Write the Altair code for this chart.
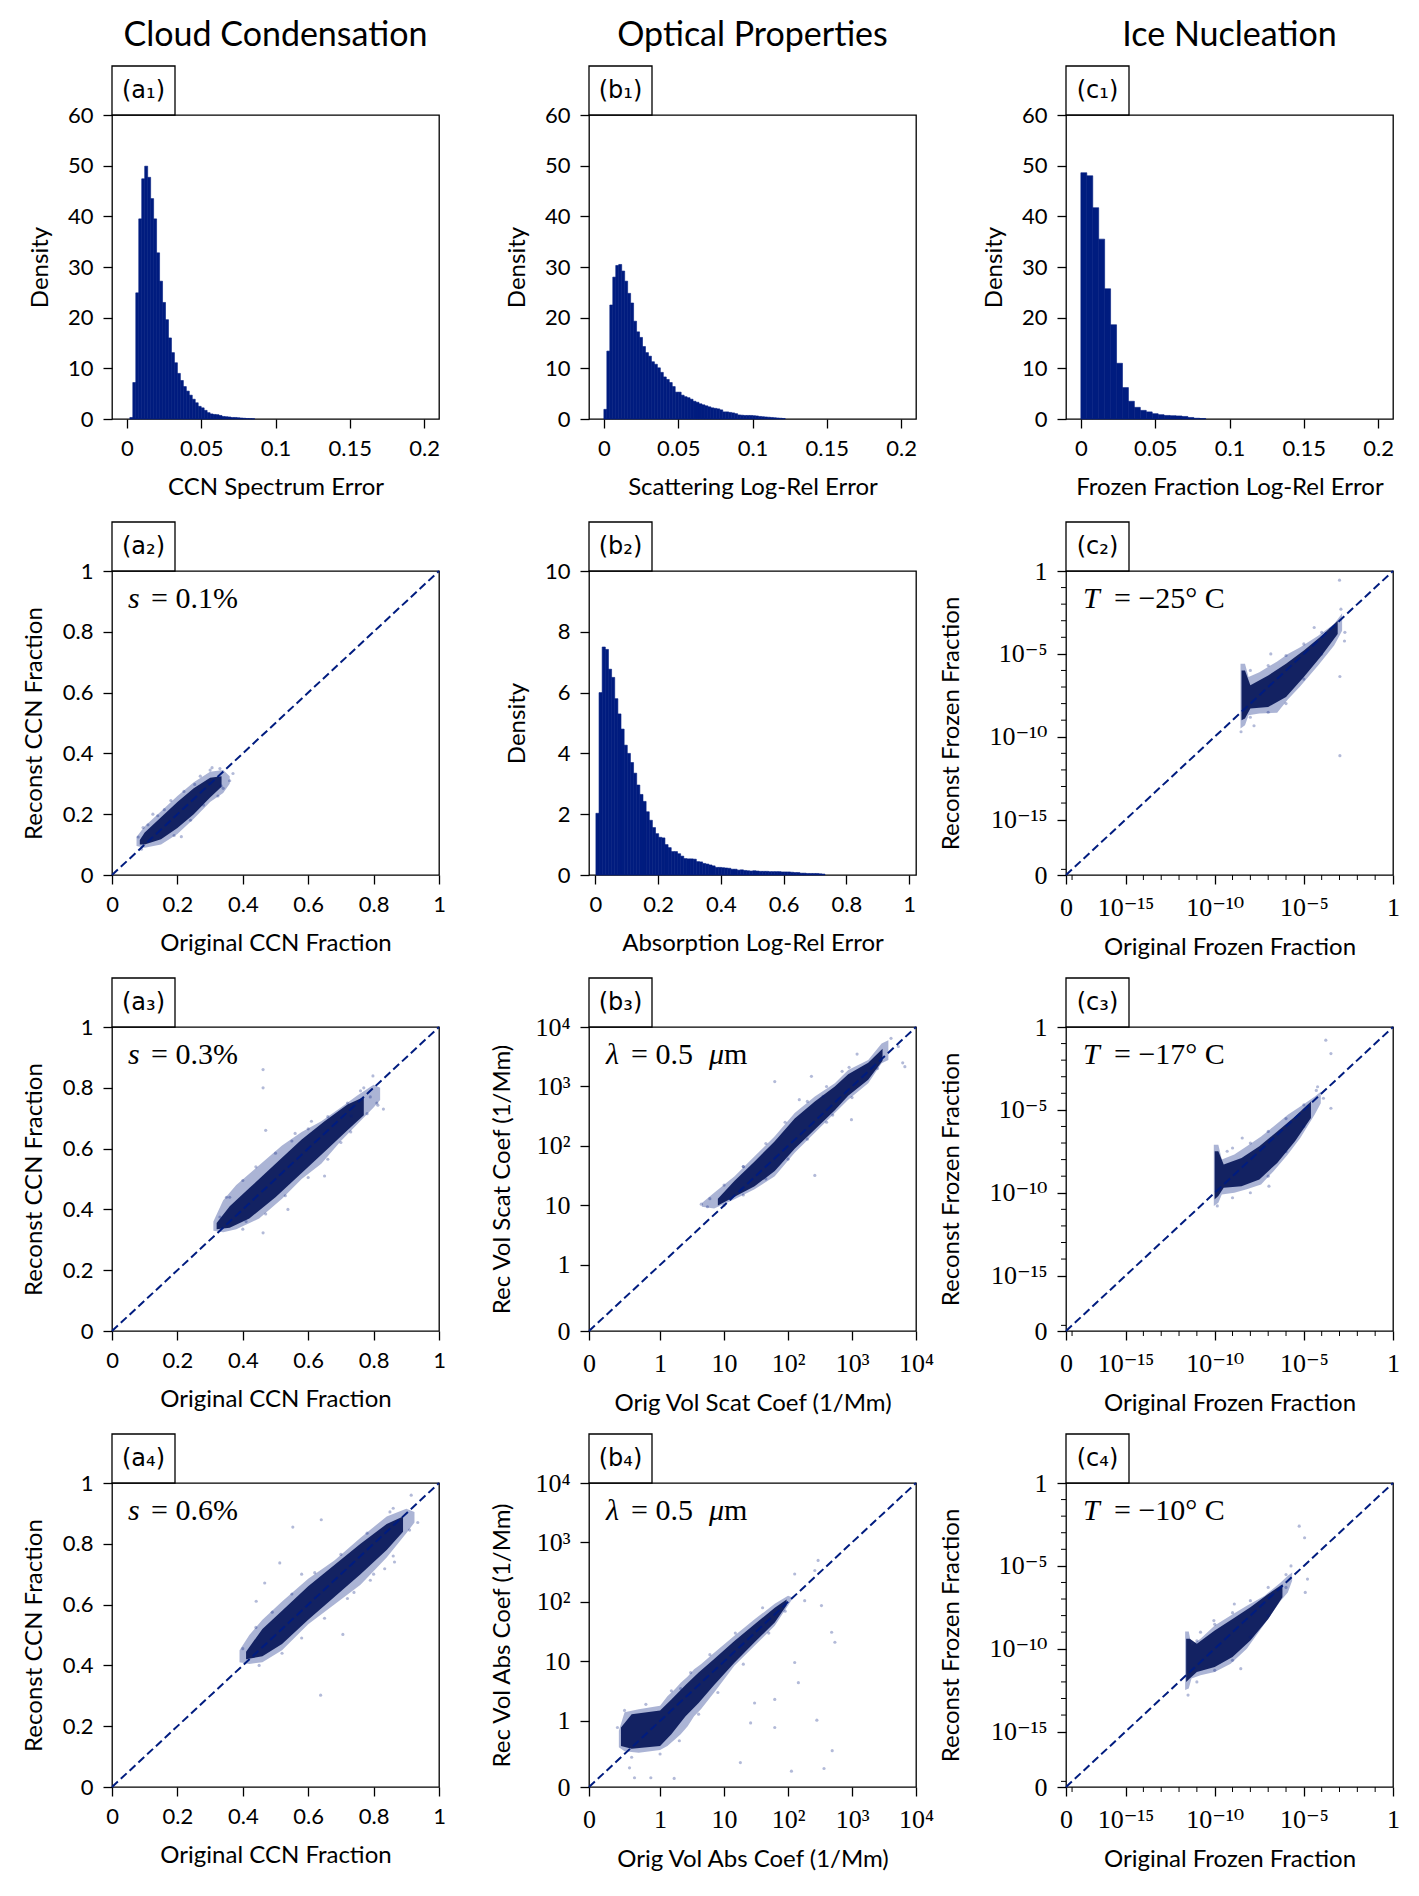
import math
import altair as alt
import pandas as pd

# ---------------------------------------------------------------- style
W, H = 327, 304
NAVY = "#001c7f"
CORE = "#0b1a5c"
SANS = "Lato"
SERIF = "Liberation Serif, DejaVu Serif, serif"
LABFONT = "DejaVu Sans"

# ---------------------------------------------------------------- histogram data (density per bin)
a1_start, a1_width = 0.002, 0.002
a1_density = [0.3, 7.2, 24.9, 39.5, 47.4, 49.9, 47.7, 43.5, 39.5, 32.8, 27.2, 23.0, 19.6, 16.0,
              13.1, 11.1, 9.0, 7.6, 6.4, 5.5, 4.7, 3.9, 3.2, 2.5, 2.2, 1.7, 1.25, 1.0, 0.9, 0.85,
              0.7, 0.5, 0.45, 0.4, 0.3, 0.3, 0.25, 0.2, 0.15, 0.1, 0.08, 0.05]

b1_start, b1_width = 0.0, 0.002
b1_density = [1.9, 13.4, 22.5, 28.0, 30.3, 30.5, 29.2, 27.2, 24.8, 22.9, 19.3, 17.2, 16.1, 14.3,
              13.1, 12.4, 11.3, 10.8, 10.1, 9.2, 8.3, 7.8, 7.2, 6.4, 5.3, 5.3, 4.7, 4.4, 4.2, 3.9,
              3.5, 3.3, 3.0, 2.8, 2.6, 2.4, 2.2, 2.1, 2.0, 1.8, 1.4, 1.4, 1.3, 1.2, 1.05, 0.8,
              0.75, 0.7, 0.7, 0.7, 0.65, 0.6, 0.5, 0.45, 0.4, 0.35, 0.3, 0.25, 0.2, 0.15, 0.1]

c1_start, c1_width = 0.0, 0.004
c1_density = [48.6, 48.0, 41.7, 35.5, 25.7, 18.6, 11.0, 6.2, 3.5, 2.3, 1.7, 1.4, 1.05, 0.85,
              0.7, 0.65, 0.6, 0.5, 0.3, 0.15, 0.1]

b2_start, b2_width = 0.002, 0.01
b2_density = [2.03, 6.0, 7.5, 7.42, 6.77, 6.5, 5.8, 5.3, 4.8, 4.27, 4.0, 3.7, 3.35, 2.96, 2.65,
              2.42, 2.08, 1.8, 1.56, 1.36, 1.24, 1.22, 1.0, 0.9, 0.77, 0.77, 0.7, 0.62, 0.54,
              0.53, 0.53, 0.52, 0.44, 0.43, 0.38, 0.36, 0.33, 0.3, 0.25, 0.25, 0.24, 0.23, 0.22,
              0.19, 0.19, 0.16, 0.17, 0.15, 0.14, 0.13, 0.14, 0.13, 0.12, 0.12, 0.12, 0.11, 0.11,
              0.11, 0.11, 0.10, 0.10, 0.10, 0.09, 0.08, 0.08, 0.06, 0.06, 0.05, 0.05, 0.05, 0.05,
              0.04, 0.03]

# ---------------------------------------------------------------- scatter clouds
# (x, lower edge, upper edge) of the sparse envelope and of the dense core, plus stray points
a2_outer_x = [0.075, 0.10, 0.15, 0.20, 0.25, 0.30, 0.34, 0.36]
a2_outer_lo = [0.095, 0.09, 0.10, 0.135, 0.185, 0.24, 0.27, 0.30]
a2_outer_hi = [0.125, 0.16, 0.21, 0.26, 0.305, 0.34, 0.345, 0.325]
a2_core_x = [0.085, 0.10, 0.15, 0.20, 0.25, 0.30, 0.335]
a2_core_lo = [0.10, 0.10, 0.118, 0.155, 0.20, 0.255, 0.29]
a2_core_hi = [0.115, 0.14, 0.19, 0.24, 0.285, 0.32, 0.325]
a2_pts_x = [0.37, 0.306, 0.334, 0.212, 0.125, 0.253, 0.294, 0.095, 0.324, 0.16, 0.36,
            0.09, 0.11, 0.14, 0.18, 0.22, 0.27, 0.30, 0.33, 0.19, 0.24, 0.28, 0.34, 0.08]
a2_pts_y = [0.334, 0.353, 0.293, 0.126, 0.20, 0.298, 0.306, 0.156, 0.26, 0.215, 0.31,
            0.085, 0.165, 0.195, 0.245, 0.275, 0.325, 0.345, 0.35, 0.13, 0.18, 0.23, 0.285, 0.125]

a3_outer_x = [0.31, 0.34, 0.38, 0.45, 0.52, 0.58, 0.64, 0.70, 0.75, 0.80, 0.82]
a3_outer_lo = [0.33, 0.325, 0.335, 0.37, 0.435, 0.50, 0.55, 0.625, 0.68, 0.735, 0.76]
a3_outer_hi = [0.36, 0.43, 0.48, 0.545, 0.61, 0.655, 0.69, 0.735, 0.775, 0.81, 0.80]
a3_core_x = [0.32, 0.36, 0.42, 0.50, 0.58, 0.65, 0.72, 0.77]
a3_core_lo = [0.335, 0.34, 0.37, 0.44, 0.52, 0.59, 0.66, 0.71]
a3_core_hi = [0.355, 0.41, 0.47, 0.55, 0.63, 0.69, 0.745, 0.77]
a3_pts_x = [0.462, 0.462, 0.813, 0.798, 0.732, 0.538, 0.462, 0.83, 0.76, 0.65, 0.47, 0.56,
            0.41, 0.70, 0.79, 0.35, 0.61,
            0.33, 0.36, 0.40, 0.44, 0.50, 0.55, 0.60, 0.66, 0.72, 0.77, 0.40, 0.47, 0.53,
            0.60, 0.66, 0.73, 0.78, 0.81]
a3_pts_y = [0.86, 0.80, 0.743, 0.839, 0.707, 0.40, 0.323, 0.73, 0.79, 0.51, 0.66, 0.65,
            0.36, 0.62, 0.77, 0.44, 0.69,
            0.375, 0.44, 0.495, 0.54, 0.585, 0.625, 0.665, 0.705, 0.75, 0.80, 0.335, 0.385, 0.445,
            0.505, 0.565, 0.655, 0.715, 0.75]

a4_outer_x = [0.39, 0.42, 0.46, 0.52, 0.60, 0.68, 0.76, 0.84, 0.90, 0.925]
a4_outer_lo = [0.41, 0.405, 0.41, 0.45, 0.535, 0.60, 0.665, 0.755, 0.835, 0.87]
a4_outer_hi = [0.45, 0.50, 0.55, 0.61, 0.685, 0.745, 0.82, 0.89, 0.915, 0.905]
a4_core_x = [0.41, 0.46, 0.52, 0.60, 0.68, 0.76, 0.84, 0.89]
a4_core_lo = [0.42, 0.43, 0.47, 0.55, 0.625, 0.70, 0.78, 0.84]
a4_core_hi = [0.445, 0.52, 0.58, 0.66, 0.73, 0.80, 0.865, 0.89]
a4_pts_x = [0.915, 0.86, 0.553, 0.64, 0.638, 0.706, 0.441, 0.467, 0.513, 0.864, 0.834, 0.935,
            0.58, 0.74, 0.80,
            0.40, 0.44, 0.49, 0.55, 0.62, 0.70, 0.78, 0.85, 0.45, 0.52, 0.58, 0.65, 0.72,
            0.79, 0.86, 0.91]
a4_pts_y = [0.96, 0.917, 0.855, 0.879, 0.302, 0.502, 0.611, 0.671, 0.737, 0.74, 0.718, 0.87,
            0.70, 0.64, 0.70,
            0.455, 0.525, 0.575, 0.635, 0.705, 0.765, 0.835, 0.905, 0.40, 0.44, 0.49, 0.555,
            0.62, 0.68, 0.76, 0.845]

b3_outer_x = [4.5, 7.0, 14.6, 30, 62, 127, 262, 538, 871, 1790, 2900, 3700]
b3_outer_lo = [9.5, 8.9, 12.7, 18.7, 31, 77, 166, 358, 600, 1137, 2460, 2800]
b3_outer_hi = [11, 16.4, 31, 67, 146, 358, 681, 1137, 1900, 2800, 5300, 6000]
b3_core_x = [8, 14.6, 30, 62, 127, 262, 538, 871, 1790, 3000]
b3_core_lo = [10, 14, 21, 38, 90, 190, 400, 700, 1300, 2700]
b3_core_hi = [13, 26, 55, 120, 290, 560, 1000, 1600, 2500, 4300]
b3_pts_x = [62, 232, 353, 980, 262, 5300, 6700, 4070, 4.4, 5.5, 150, 400, 1200, 20, 700, 6200,
            6, 10, 20, 45, 90, 200, 400, 900, 10, 20, 45, 100, 200, 500, 1000, 2500]
b3_pts_y = [1210, 1480, 680, 277, 32, 4700, 2150, 6450, 10.5, 9.5, 600, 250, 3500, 45, 1800, 2500,
            13, 22, 45, 110, 250, 560, 1000, 2100, 10, 15, 28, 60, 130, 330, 650, 2000]

b4_outer_x = [0.42, 0.5, 0.7, 1.0, 1.3, 1.7, 2.1, 2.7, 3.4, 4.35, 7, 14.5, 30, 62, 100, 115]
b4_outer_lo = [0.6, 0.54, 0.52, 0.56, 0.62, 0.72, 0.8, 0.92, 1.2, 1.57, 3.0, 8.5, 18.3, 40, 87, 110]
b4_outer_hi = [0.85, 1.4, 1.57, 1.8, 2.6, 3.4, 4.4, 5.6, 7.4, 9.0, 14, 27, 51, 93, 127, 120]
b4_core_x = [0.45, 0.6, 1.0, 1.5, 2.5, 4, 7, 14.5, 30, 62, 95]
b4_core_lo = [0.62, 0.58, 0.62, 0.8, 1.2, 2.0, 4.0, 9.5, 21, 45, 88]
b4_core_hi = [0.9, 1.3, 1.5, 2.3, 4.0, 6.5, 11, 22, 42, 80, 110]
b4_pts_x = [333, 480, 540, 127, 145, 62, 26, 18, 113, 365, 490, 262, 295, 127, 182, 0.64, 0.87,
            1.66, 0.57, 282, 62, 30, 2.1,
            0.4, 0.5, 0.8, 1.5, 3, 6, 15, 40, 0.6, 1, 2, 4, 8, 20, 50, 90]
b4_pts_y = [87, 31, 21, 9.6, 4.4, 2.3, 0.97, 0.37, 0.24, 0.28, 0.55, 338, 500, 295, 105, 0.14,
            0.14, 0.13, 0.29, 1.03, 0.9, 2.0, 3.5,
            0.9, 1.5, 1.9, 3.2, 6.5, 13, 30, 80, 0.45, 0.5, 0.7, 1.3, 3, 9, 30, 70]

c2_outer_x = [2.8e-9, 5e-9, 7.9e-9, 3.2e-8, 3.2e-7, 1.26e-6, 6.3e-6, 6.3e-5, 5e-4, 1.4e-3]
c2_outer_lo = [3.2e-10, 5e-10, 2e-9, 2.5e-9, 2.8e-9, 1.8e-8, 1.1e-7, 2e-6, 3.2e-5, 2.5e-4]
c2_outer_hi = [2.5e-6, 2.5e-6, 4e-7, 7.9e-7, 3.5e-6, 1e-5, 2.5e-5, 1.26e-4, 6.3e-4, 2.8e-3]
c2_core_x = [3.2e-9, 5e-9, 1e-8, 1e-7, 1e-6, 1e-5, 1e-4, 7.9e-4]
c2_core_lo = [1e-9, 1.26e-9, 5e-9, 6.3e-9, 2.5e-8, 4e-7, 7.9e-6, 1.6e-4]
c2_core_hi = [1e-6, 1e-6, 1.26e-7, 5e-7, 2.5e-6, 1.6e-5, 1.26e-4, 1e-3]
c2_pts_x = [1.0e-3, 1.05e-3, 1.05e-3, 1.9e-3, 1.4e-7, 1.6e-8, 1.2e-3, 3.8e-5, 2.0e-3,
            1e-8, 1e-7, 1e-6, 1e-5, 1e-4, 1e-8, 1e-7, 1e-6, 1e-5, 1e-4, 3e-9]
c2_pts_y = [2.8e-1, 4.3e-7, 7.2e-12, 6.0e-5, 1.0e-5, 4.6e-10, 5.0e-3, 3.9e-4, 2.0e-4,
            1e-6, 2e-6, 8e-6, 4e-5, 2e-4, 1.5e-9, 3e-9, 1e-8, 3e-7, 1e-5, 2e-10]

c3_outer_x = [8.9e-11, 1.6e-10, 2.5e-10, 1.26e-9, 6.3e-9, 4e-8, 2e-7, 1.26e-6, 6.3e-6, 4e-5, 8.9e-5]
c3_outer_lo = [1.6e-11, 2.5e-11, 7.9e-11, 1e-10, 1.6e-10, 3.2e-10, 2e-9, 2e-8, 2e-7, 5e-6, 2.5e-5]
c3_outer_hi = [7.9e-8, 7.9e-8, 1e-8, 2e-8, 6.3e-8, 2.5e-7, 1e-6, 5e-6, 1.6e-5, 6.3e-5, 1.26e-4]
c3_core_x = [1e-10, 1.6e-10, 3.2e-10, 3.2e-9, 3.2e-8, 3.2e-7, 3.2e-6, 2.5e-5]
c3_core_lo = [4e-11, 6.3e-11, 2e-10, 2.5e-10, 6.3e-10, 6.3e-9, 1.26e-7, 3.2e-6]
c3_core_hi = [3.2e-8, 3.2e-8, 5e-9, 1.26e-8, 6.3e-8, 5e-7, 4e-6, 3.2e-5]
c3_pts_x = [1.7e-4, 3.3e-4, 3.3e-4, 5.9e-5, 1.1e-7, 3.5e-9, 5e-10, 1.4e-10, 1.26e-4,
            1e-9, 1e-8, 1e-7, 1e-6, 1e-5, 1e-9, 1e-8, 1e-7, 1e-6, 1e-5, 5e-5]
c3_pts_y = [1.6e-1, 2.5e-2, 1.26e-5, 2.5e-4, 2.5e-10, 2e-7, 3.2e-8, 1.6e-11, 5e-5,
            5e-8, 1e-7, 5e-7, 3e-6, 2e-5, 5e-11, 1e-10, 1e-9, 3e-8, 1e-6, 1.5e-4]

c4_outer_x = [2.2e-12, 3.5e-12, 5e-12, 1.6e-11, 1e-10, 7.9e-10, 6.3e-9, 6.3e-8, 5e-7, 1.26e-6, 2.2e-6]
c4_outer_lo = [3.2e-13, 4e-13, 1.6e-12, 2.5e-12, 4e-12, 1.26e-11, 1e-10, 3.2e-9, 7.9e-8, 2.5e-7, 1.26e-6]
c4_outer_hi = [1.1e-9, 1.1e-9, 1.6e-10, 4e-10, 2.5e-9, 1e-8, 4e-8, 1.6e-7, 1e-6, 2.5e-6, 4e-6]
c4_core_x = [2.5e-12, 4e-12, 1e-11, 1e-10, 1e-9, 1e-8, 1e-7, 6.3e-7]
c4_core_lo = [1e-12, 1.6e-12, 4e-12, 7.9e-12, 3.2e-11, 3.2e-10, 6.3e-9, 1.26e-7]
c4_core_hi = [4e-10, 4e-10, 2e-10, 1.26e-9, 6.3e-9, 3.2e-8, 2e-7, 7.9e-7]
c4_pts_x = [5.5e-6, 1.1e-5, 1.6e-5, 1.2e-5, 1.9e-6, 2.9e-9, 9e-11, 1.6e-11, 1.26e-9, 3.2e-12,
            1e-11, 1e-10, 1e-9, 1e-8, 1e-7, 1e-6, 1e-11, 1e-10, 1e-9, 1e-8, 1e-7, 1e-6]
c4_pts_y = [2.5e-3, 5e-4, 1.6e-6, 2.5e-7, 1e-5, 6.3e-12, 5e-9, 1e-9, 5e-8, 1.6e-13,
            3e-10, 3e-9, 1.5e-8, 8e-8, 5e-7, 3e-6, 1e-12, 5e-12, 2e-11, 5e-10, 1e-8, 5e-7]

# ---------------------------------------------------------------- ticks
lin_ticks = [0, 0.2, 0.4, 0.6, 0.8, 1]
lin_labels = ["0", "0.2", "0.4", "0.6", "0.8", "1"]
small_ticks = [0, 0.05, 0.1, 0.15, 0.2]
small_labels = ["0", "0.05", "0.1", "0.15", "0.2"]
dens60_ticks = [0, 10, 20, 30, 40, 50, 60]
dens10_ticks = [0, 2, 4, 6, 8, 10]
opt_ticks = [0, 1, 10, 100, 1000, 10000]
opt_labels = ["0", "1", "10", "10²", "10³", "10⁴"]
ice_ticks = [0, 1e-15, 1e-10, 1e-5, 1]
ice_labels = ["0", "10⁻¹⁵", "10⁻¹⁰", "10⁻⁵", "1"]
ice_minor = [1e-18, 1e-14, 1e-13, 1e-12, 1e-11, 1e-9, 1e-8, 1e-7, 1e-6, 1e-4, 1e-3, 1e-2, 1e-1]

# symmetric-log parameters (linear threshold, linear-region length in decades)
SYMLOG = {"b": (1.0, 1 / 0.9), "c": (1e-18, 0.34)}


def fwd(v, kind):
    if kind == "lin":
        return v
    L, A = SYMLOG[kind]
    return v / L * A if v <= L else A + math.log10(v / L)


def sl_expr(field, kind):
    if kind == "lin":
        return f"datum.{field}"
    L, A = SYMLOG[kind]
    return (f"datum.{field} <= {L!r} ? datum.{field} / {L!r} * {A!r} : "
            f"{A!r} + log(datum.{field} / {L!r}) / LN10")


def label_expr(vals, labels):
    expr = f"'{labels[-1]}'"
    for i in range(len(vals) - 2, -1, -1):
        mid = (vals[i] + vals[i + 1]) / 2
        expr = f"datum.value < {mid!r} ? '{labels[i]}' : ({expr})"
    return expr


def axis_common(font, size):
    return dict(tickSize=9, tickWidth=1.3, tickColor="black", domain=False, grid=False,
                labelFont=font, labelFontSize=size, labelColor="black", labelPadding=10,
                labelFlush=False, labelOverlap=False,
                titleFont=SANS, titleFontSize=24, titleFontWeight="normal", titleColor="black")


def xaxis(title, vals, labels, font=SANS, size=22, title_y=75):
    return alt.Axis(title=title, values=vals, labelExpr=label_expr(vals, labels),
                    titleX=W / 2, titleY=title_y, titleAlign="center",
                    titleBaseline="alphabetic", **axis_common(font, size))


def yaxis(title, vals, labels, font=SANS, size=22, title_x=-70):
    return alt.Axis(title=title, values=vals, labelExpr=label_expr(vals, labels),
                    titleX=title_x, titleY=H / 2, titleAngle=270, titleAlign="center",
                    titleBaseline="alphabetic", **axis_common(font, size))


ONE = pd.DataFrame({"k": [0]})


def deco_layers(label, coltitle=None):
    box = alt.Chart(ONE).mark_rect(fill="white", stroke="black", strokeWidth=1.3).encode(
        x=alt.value(0), x2=alt.value(63), y=alt.value(-49), y2=alt.value(0))
    txt = alt.Chart(ONE).mark_text(font=LABFONT, fontSize=24, align="center",
                                   baseline="middle", color="black").encode(
        x=alt.value(31.5), y=alt.value(-24), text=alt.value(label))
    out = [box, txt]
    if coltitle:
        out.append(alt.Chart(ONE).mark_text(font=SANS, fontSize=34, align="center",
                                            baseline="alphabetic", color="black").encode(
            x=alt.value(W / 2), y=alt.value(-69), text=alt.value(coltitle)))
    return out


def hist_panel(start, width, dens, xdom, xvals, xlabels, xtitle, ydom, yvals, label,
               coltitle=None):
    n = len(dens)
    df = pd.DataFrame({"x0": [start + i * width for i in range(n)],
                       "x1": [start + (i + 1) * width for i in range(n)],
                       "density": dens, "base": [0.0] * n})
    bars = alt.Chart(df).mark_rect(color=NAVY, stroke=NAVY, strokeWidth=0.6).encode(
        x=alt.X("x0:Q", scale=alt.Scale(domain=xdom, nice=False, zero=False),
                axis=xaxis(xtitle, xvals, xlabels)),
        x2="x1:Q",
        y=alt.Y("density:Q", scale=alt.Scale(domain=ydom, nice=False, zero=False),
                axis=yaxis("Density", yvals, [str(v) for v in yvals], title_x=-65)),
        y2="base:Q")
    return alt.layer(bars, *deco_layers(label, coltitle)).properties(width=W, height=H)


def scatter_panel(kind, dmax, outer, core, pts, xtitle, ytitle, ticks, labels, font, size,
                  title_x, title_y, ann, label, minor=None):
    D = fwd(dmax, kind)
    xs = alt.Scale(domain=[0, D], nice=False, zero=False)
    ys = alt.Scale(domain=[0, D], nice=False, zero=False)
    tv = [fwd(v, kind) for v in ticks]
    xa = xaxis(xtitle, tv, labels, font, size, title_y)
    ya = yaxis(ytitle, tv, labels, font, size, title_x)

    odf = pd.DataFrame({"x": outer[0], "lo": outer[1], "hi": outer[2]})
    outer_l = alt.Chart(odf).transform_calculate(
        px=sl_expr("x", kind), plo=sl_expr("lo", kind), phi=sl_expr("hi", kind)
    ).mark_area(color=NAVY, opacity=0.33).encode(
        x=alt.X("px:Q", scale=xs, axis=xa),
        y=alt.Y("plo:Q", scale=ys, axis=ya),
        y2="phi:Q")

    cdf = pd.DataFrame({"x": core[0], "lo": core[1], "hi": core[2]})
    core_l = alt.Chart(cdf).transform_calculate(
        px=sl_expr("x", kind), plo=sl_expr("lo", kind), phi=sl_expr("hi", kind)
    ).mark_area(color=CORE, opacity=0.95).encode(
        x=alt.X("px:Q", scale=xs, axis=xa),
        y=alt.Y("plo:Q", scale=ys, axis=ya),
        y2="phi:Q")

    pdf = pd.DataFrame({"x": pts[0], "y": pts[1]})
    pts_l = alt.Chart(pdf).transform_calculate(
        px=sl_expr("x", kind), py=sl_expr("y", kind)
    ).mark_circle(color=NAVY, opacity=0.3, size=10).encode(
        x=alt.X("px:Q", scale=xs, axis=xa),
        y=alt.Y("py:Q", scale=ys, axis=ya))

    ldf = pd.DataFrame({"v": [0.0, dmax]})
    line_l = alt.Chart(ldf).transform_calculate(
        px=sl_expr("v", kind), py=sl_expr("v", kind)
    ).mark_line(color=NAVY, strokeDash=[8, 4], strokeWidth=2).encode(
        x=alt.X("px:Q", scale=xs, axis=xa),
        y=alt.Y("py:Q", scale=ys, axis=ya))

    layers = [outer_l, core_l, pts_l, line_l]

    if minor:
        mdf = pd.DataFrame({"m": minor})
        base = alt.Chart(mdf).transform_calculate(pm=sl_expr("m", kind))
        layers.append(base.mark_rule(color="black", strokeWidth=1).encode(
            x=alt.X("pm:Q", scale=xs, axis=xa), y=alt.value(H), y2=alt.value(H + 5)))
        layers.append(base.mark_rule(color="black", strokeWidth=1).encode(
            y=alt.Y("pm:Q", scale=ys, axis=ya), x=alt.value(-5), x2=alt.value(0)))

    for text, xpos, italic in ann:
        layers.append(alt.Chart(ONE).mark_text(
            font=SERIF, fontSize=30, align="left", baseline="alphabetic", color="black",
            fontStyle="italic" if italic else "normal").encode(
            x=alt.value(xpos), y=alt.value(36.5), text=alt.value(text)))

    layers += deco_layers(label)
    return alt.layer(*layers).properties(width=W, height=H)


def ccn_panel(outer, core, pts, s, label):
    return scatter_panel("lin", 1.0, outer, core, pts, "Original CCN Fraction",
                         "Reconst CCN Fraction", lin_ticks, lin_labels, SANS, 22, -70.5, 75,
                         [("s", 16, True), (f"= {s}%", 39, False)], label)


def opt_panel(outer, core, pts, xt, yt, label):
    return scatter_panel("b", 10000.0, outer, core, pts, xt, yt, opt_ticks, opt_labels, SERIF,
                         26, -80, 79,
                         [("λ", 17, True), ("= 0.5", 42, False), ("μ", 120, True),
                          ("m", 135, False)], label)


def ice_panel(outer, core, pts, t, label):
    return scatter_panel("c", 1.0, outer, core, pts, "Original Frozen Fraction",
                         "Reconst Frozen Fraction", ice_ticks, ice_labels, SERIF, 26, -108, 79,
                         [("T", 17, True), (f"= −{t}° C", 48, False)], label, minor=ice_minor)


a1 = hist_panel(a1_start, a1_width, a1_density, [-0.01, 0.21], small_ticks, small_labels,
                "CCN Spectrum Error", [0, 60], dens60_ticks, "(a₁)", "Cloud Condensation")
b1 = hist_panel(b1_start, b1_width, b1_density, [-0.01, 0.21], small_ticks, small_labels,
                "Scattering Log-Rel Error", [0, 60], dens60_ticks, "(b₁)", "Optical Properties")
c1 = hist_panel(c1_start, c1_width, c1_density, [-0.01, 0.21], small_ticks, small_labels,
                "Frozen Fraction Log-Rel Error", [0, 60], dens60_ticks, "(c₁)", "Ice Nucleation")

a2 = ccn_panel((a2_outer_x, a2_outer_lo, a2_outer_hi), (a2_core_x, a2_core_lo, a2_core_hi),
               (a2_pts_x, a2_pts_y), "0.1", "(a₂)")
b2 = hist_panel(b2_start, b2_width, b2_density, [-0.02, 1.022], lin_ticks, lin_labels,
                "Absorption Log-Rel Error", [0, 10], dens10_ticks, "(b₂)")
c2 = ice_panel((c2_outer_x, c2_outer_lo, c2_outer_hi), (c2_core_x, c2_core_lo, c2_core_hi),
               (c2_pts_x, c2_pts_y), "25", "(c₂)")

a3 = ccn_panel((a3_outer_x, a3_outer_lo, a3_outer_hi), (a3_core_x, a3_core_lo, a3_core_hi),
               (a3_pts_x, a3_pts_y), "0.3", "(a₃)")
b3 = opt_panel((b3_outer_x, b3_outer_lo, b3_outer_hi), (b3_core_x, b3_core_lo, b3_core_hi),
               (b3_pts_x, b3_pts_y), "Orig Vol Scat Coef (1/Mm)", "Rec Vol Scat Coef (1/Mm)",
               "(b₃)")
c3 = ice_panel((c3_outer_x, c3_outer_lo, c3_outer_hi), (c3_core_x, c3_core_lo, c3_core_hi),
               (c3_pts_x, c3_pts_y), "17", "(c₃)")

a4 = ccn_panel((a4_outer_x, a4_outer_lo, a4_outer_hi), (a4_core_x, a4_core_lo, a4_core_hi),
               (a4_pts_x, a4_pts_y), "0.6", "(a₄)")
b4 = opt_panel((b4_outer_x, b4_outer_lo, b4_outer_hi), (b4_core_x, b4_core_lo, b4_core_hi),
               (b4_pts_x, b4_pts_y), "Orig Vol Abs Coef (1/Mm)", "Rec Vol Abs Coef (1/Mm)",
               "(b₄)")
c4 = ice_panel((c4_outer_x, c4_outer_lo, c4_outer_hi), (c4_core_x, c4_core_lo, c4_core_hi),
               (c4_pts_x, c4_pts_y), "10", "(c₄)")

chart = alt.concat(a1, b1, c1, a2, b2, c2, a3, b3, c3, a4, b4, c4, columns=3,
                   spacing={"row": 152, "column": 150}, bounds="flush").configure(
    background="white",
    padding={"left": 21, "top": 18, "right": 5, "bottom": 5},
).configure_view(stroke="black", strokeWidth=1.3)

chart.save("out.html", embed_options={"renderer": "svg", "actions": False})
